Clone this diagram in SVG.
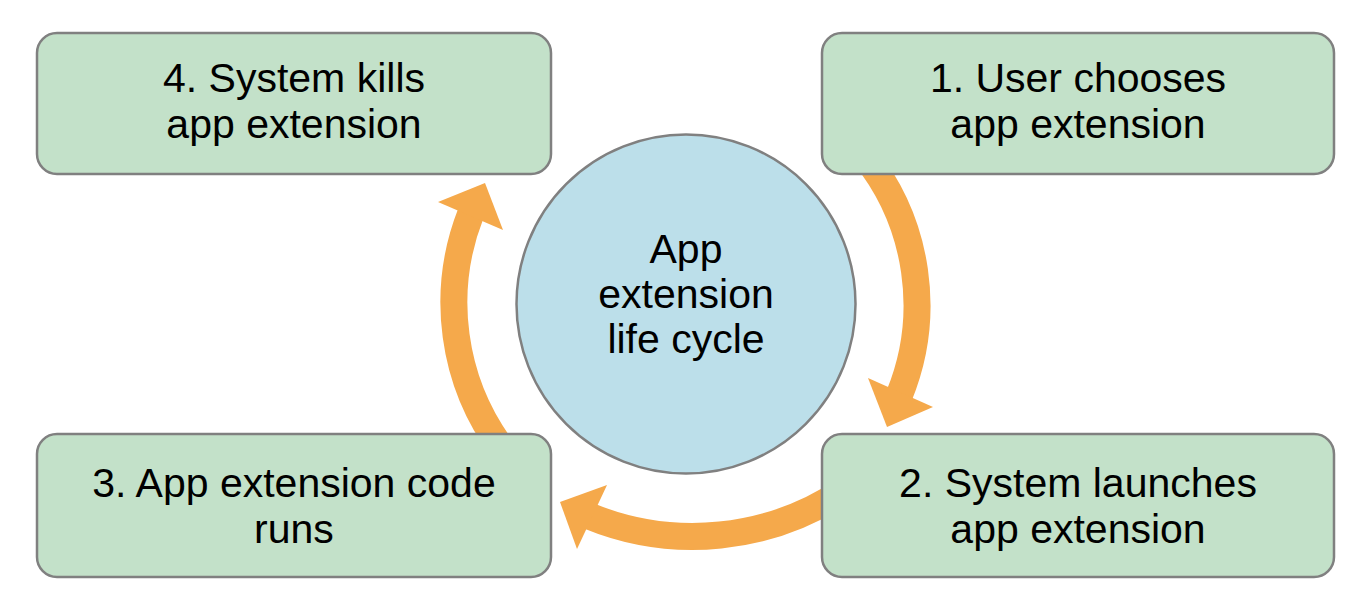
<svg xmlns="http://www.w3.org/2000/svg" width="1368" height="612" viewBox="0 0 1368 612">
<style>
.box{fill:#c3e1c9;stroke:#808080;stroke-width:2.5}
.hub{fill:#bcdfea;stroke:#808080;stroke-width:2.5}
.shaft{fill:none;stroke:#f5a94b;stroke-width:27;stroke-linecap:butt}
.head{fill:#f5a94b}
text{font-family:"Liberation Sans",Arial,Helvetica,sans-serif;font-size:41px;fill:#000;text-anchor:middle}
</style>
<rect width="1368" height="612" fill="#ffffff"/>
<g id="connectors">
<path class="shaft" d="M864,155 A239,239 0 0 1 899,396"/>
<polygon class="head" points="868,378 887,427 933,407"/>
<path class="shaft" d="M845,490 A273,273 0 0 1 589,516"/>
<polygon class="head" points="607,485 560,502 577,549"/>
<path class="shaft" d="M503,450 A245,245 0 0 1 471,213"/>
<polygon class="head" points="438,202 485,183 503,230"/>
</g>
<g id="hub">
<circle class="hub" cx="686" cy="304" r="169.5"/>
<text x="686" y="263">App</text>
<text x="686" y="308">extension</text>
<text x="686" y="353">life cycle</text>
</g>
<g id="step1">
<rect class="box" x="822" y="33" width="512" height="141" rx="20"/>
<text x="1078" y="92">1. User chooses</text>
<text x="1078" y="138">app extension</text>
</g>
<g id="step2">
<rect class="box" x="822" y="434" width="512" height="143" rx="20"/>
<text x="1078" y="497">2. System launches</text>
<text x="1078" y="543">app extension</text>
</g>
<g id="step3">
<rect class="box" x="37" y="434" width="514" height="143" rx="20"/>
<text x="294" y="497">3. App extension code</text>
<text x="294" y="543">runs</text>
</g>
<g id="step4">
<rect class="box" x="37" y="33" width="514" height="141" rx="20"/>
<text x="294" y="92">4. System kills</text>
<text x="294" y="138">app extension</text>
</g>
</svg>
